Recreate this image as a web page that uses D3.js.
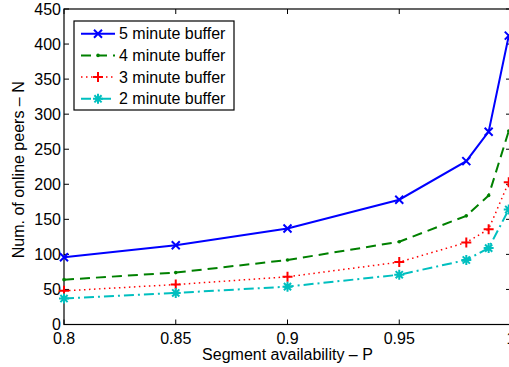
<!DOCTYPE html>
<html><head><meta charset="utf-8">
<script src="https://cdn.jsdelivr.net/npm/d3@7"></script>
<style>body{margin:0;background:#fff}svg{display:block}text{font-family:"Liberation Sans",Arial,sans-serif;fill:#000}</style>
</head><body><svg id="c" width="509" height="367"></svg>
<script>
const pVals = [0.8, 0.85, 0.9, 0.95, 0.98, 0.99, 0.999];
const buf5 = [96, 113, 137, 178, 233, 275, 412];
const buf4 = [64, 74, 92, 118, 155, 184, 276];
const buf3 = [48, 57, 68, 89, 117, 136, 203];
const buf2 = [37, 45, 54, 71, 92, 109, 164];
const seriesNames = ["5 minute buffer", "4 minute buffer", "3 minute buffer", "2 minute buffer"];
const xTicks = [0.8, 0.85, 0.9, 0.95, 1];
const yTicks = [0, 50, 100, 150, 200, 250, 300, 350, 400, 450];

const styles = [
  {color:"#0000ff", dash:null, width:2, marker:"x"},
  {color:"#008000", dash:"10,6", width:2, marker:"dot"},
  {color:"#ff0000", dash:"1.5,3.5", width:1.5, marker:"plus"},
  {color:"#00bfbf", dash:"10,4,2,4", width:2, marker:"star"}
];
const data = [buf5, buf4, buf3, buf2];

const svg = d3.select("#c");
const L = 64, R = 511, T = 9, B = 324.5;
const x = d3.scaleLinear().domain([0.8, 1]).range([L, R]);
const y = d3.scaleLinear().domain([0, 450]).range([B, T]);
const FS = 16;

// frame
svg.append("rect").attr("x", L).attr("y", T).attr("width", R-L).attr("height", B-T)
  .attr("fill", "#fff").attr("stroke", "#000").attr("stroke-width", 1.2);

// ticks (inward, all sides)
const tl = 5;
const g = svg.append("g").attr("stroke", "#000").attr("stroke-width", 1);
xTicks.forEach(t => {
  g.append("line").attr("x1", x(t)).attr("x2", x(t)).attr("y1", B).attr("y2", B-tl);
  g.append("line").attr("x1", x(t)).attr("x2", x(t)).attr("y1", T).attr("y2", T+tl);
});
yTicks.forEach(t => {
  g.append("line").attr("x1", L).attr("x2", L+tl).attr("y1", y(t)).attr("y2", y(t));
  g.append("line").attr("x1", R).attr("x2", R-tl).attr("y1", y(t)).attr("y2", y(t));
});
const fmtX = d => d3.format("")(+d.toFixed(2));
xTicks.forEach(t => {
  svg.append("text").attr("x", x(t)).attr("y", B+19).attr("text-anchor", "middle")
    .attr("font-size", FS).text(fmtX(t));
});
yTicks.forEach(t => {
  svg.append("text").attr("x", L-3).attr("y", y(t)+5.5).attr("text-anchor", "end")
    .attr("font-size", FS).text(t);
});
svg.append("text").attr("x", (L+R)/2).attr("y", 360).attr("text-anchor", "middle")
  .attr("font-size", FS).text("Segment availability \u2013 P");
svg.append("text").attr("transform", `translate(24,${(T+B)/2+3}) rotate(-90)`).attr("text-anchor", "middle")
  .attr("font-size", FS).text("Num. of online peers \u2013 N");

function marker(sel, type, cx, cy, color) {
  const s = sel.append("g").attr("transform", `translate(${cx},${cy})`).attr("stroke", color).attr("fill", "none");
  if (type === "x") {
    const r = 4;
    s.append("path").attr("d", `M${-r},${-r}L${r},${r}M${-r},${r}L${r},${-r}`).attr("stroke-width", 2);
  } else if (type === "plus") {
    const r = 5;
    s.append("path").attr("d", `M${-r},0L${r},0M0,${-r}L0,${r}`).attr("stroke-width", 2);
  } else if (type === "star") {
    const r = 5, d = r*0.72;
    s.append("path").attr("d", `M${-r},0L${r},0M0,${-r}L0,${r}M${-d},${-d}L${d},${d}M${-d},${d}L${d},${-d}`).attr("stroke-width", 2);
  } else if (type === "dot") {
    s.append("circle").attr("r", 1.8).attr("fill", color).attr("stroke", "none");
  }
}

const clip = svg.append("g");
const line = d3.line().x(d => x(d[0])).y(d => y(d[1]));
data.forEach((vals, i) => {
  const st = styles[i];
  const pts = pVals.map((p, j) => [p, vals[j]]);
  clip.append("path").attr("d", line(pts)).attr("fill", "none").attr("stroke", st.color)
    .attr("stroke-width", st.width).attr("stroke-dasharray", st.dash);
  pts.forEach(p => marker(clip, st.marker, x(p[0]), y(p[1]), st.color));
});

// legend
const lg = svg.append("g");
lg.append("rect").attr("x", 74).attr("y", 21).attr("width", 160).attr("height", 89)
  .attr("fill", "#fff").attr("stroke", "#000").attr("stroke-width", 1.2);
seriesNames.forEach((name, i) => {
  const st = styles[i];
  const cy = 33.7 + i*21.7;
  lg.append("line").attr("x1", 81).attr("x2", 115).attr("y1", cy).attr("y2", cy)
    .attr("stroke", st.color).attr("stroke-width", st.width).attr("stroke-dasharray", st.dash);
  marker(lg, st.marker, 98, cy, st.color);
  lg.append("text").attr("x", 119).attr("y", cy+5.5).attr("font-size", FS).text(name);
});
</script></body></html>
